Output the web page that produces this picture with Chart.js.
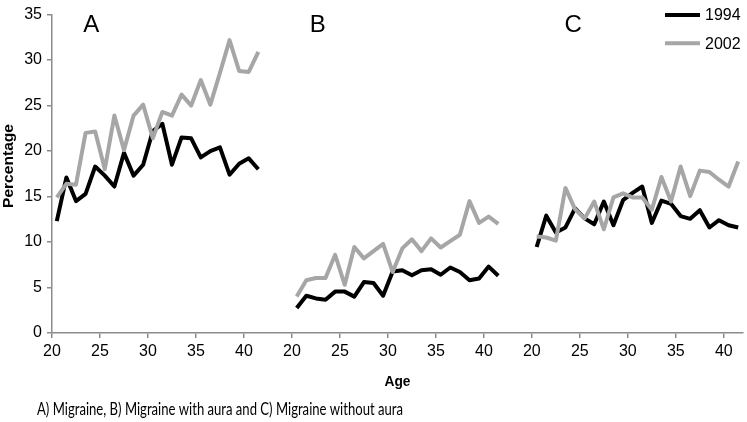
<!DOCTYPE html>
<html><head><meta charset="utf-8">
<script src="https://cdn.jsdelivr.net/npm/chart.js@4/dist/chart.umd.min.js"></script>
<style>html,body{margin:0;padding:0;background:#fff;}#wrap{position:relative;width:747px;height:422px;}</style>
</head><body><div id="wrap"><canvas id="c" width="747" height="422"></canvas></div>
<script>
// ---- data ----
const ages = [20,21,22,23,24,25,26,27,28,29,30,31,32,33,34,35,36,37,38,39,40,41];
const panelNames = ['A','B','C'];
const panelOffsets = [0,25,50];
const seriesNames = ['1994','2002'];
const migraine1994 = [12.3,17.1,14.5,15.3,18.3,17.3,16.1,19.8,17.3,18.5,22.2,23.0,18.5,21.5,21.4,19.3,20.0,20.4,17.4,18.6,19.2,18.0];
const migraine2002 = [14.9,16.4,16.3,22.0,22.15,18.0,23.9,20.1,23.9,25.1,21.4,24.3,23.9,26.2,25.0,27.8,25.1,28.6,32.2,28.8,28.7,30.9];
const withAura1994 = [2.75,4.1,3.8,3.65,4.55,4.55,4.0,5.6,5.5,4.1,6.75,6.9,6.35,6.9,7.0,6.4,7.2,6.7,5.8,6.0,7.3,6.3];
const withAura2002 = [4.0,5.8,6.05,6.05,8.6,5.3,9.45,8.2,9.0,9.8,6.7,9.3,10.3,9.0,10.4,9.4,10.1,10.8,14.5,12.1,12.8,12.0];
const withoutAura1994 = [9.45,12.9,11.05,11.6,13.7,12.6,11.95,14.45,11.85,14.6,15.4,16.1,12.1,14.55,14.2,12.85,12.55,13.5,11.6,12.4,11.85,11.6];
const withoutAura2002 = [10.6,10.5,10.15,15.95,13.6,12.6,14.45,11.4,14.9,15.35,14.9,14.9,13.55,17.15,14.45,18.3,15.05,17.85,17.7,16.85,16.1,18.85];
const ageTickLabels = [20,25,30,35,40];
const yTickValues = [0,5,10,15,20,25,30,35];
const captionText = 'A) Migraine, B) Migraine with aura and C) Migraine without aura';

// ---- build ----
const series1994 = [migraine1994, withAura1994, withoutAura1994];
const series2002 = [migraine2002, withAura2002, withoutAura2002];
const colors = {'1994':'#000000','2002':'#a6a6a6'};
const CENTER = 0.5;
function pts(vals, p){ return ages.map((a,i)=>({x:a+panelOffsets[p]+CENTER, y:vals[i]})); }
const datasets = [];
panelNames.forEach((n,p)=>{
  datasets.push({label:'1994', data:pts(series1994[p],p), borderColor:colors['1994'], order:1});
  datasets.push({label:'2002', data:pts(series2002[p],p), borderColor:colors['2002'], order:0});
});
datasets.forEach(d=>Object.assign(d,{borderWidth:4, pointRadius:0, tension:0, fill:false, borderJoinStyle:'round'}));

const axisGrey = '#8c8c8c';
function fitText(ctx, text, x, y, targetW){
  const w = ctx.measureText(text).width;
  const s = targetW / w;
  ctx.save(); ctx.translate(x, y); ctx.scale(s, 1); ctx.fillText(text, 0, 0); ctx.restore();
}
const textPlugin = {
  id:'texts',
  afterDraw(chart){
    const ctx = chart.ctx, x = chart.scales.x;
    ctx.save();
    ctx.fillStyle = '#000';
    // panel letters
    ctx.font = '24px "Liberation Sans", Arial, sans-serif';
    ctx.textAlign = 'center'; ctx.textBaseline = 'middle';
    const letterAt = [24.1, 47.7, 74.3];
    panelNames.forEach((n,i)=>ctx.fillText(n, x.getPixelForValue(letterAt[i]), 25));
    // legend
    ctx.font = '16px "Liberation Sans", Arial, sans-serif';
    ctx.textAlign = 'left';
    seriesNames.forEach((s,i)=>{
      const yy = 15 + i*28.3;
      ctx.strokeStyle = colors[s]; ctx.lineWidth = 4; ctx.lineCap='butt';
      ctx.beginPath(); ctx.moveTo(665, yy); ctx.lineTo(700, yy); ctx.stroke();
      ctx.fillText(s, 705, yy+1);
    });
    // axis titles
    ctx.font = 'bold 14px "Liberation Sans", Arial, sans-serif';
    ctx.textAlign='center';
    fitText(ctx, 'Age', (chart.chartArea.left+chart.chartArea.right)/2, 382, 26);
    ctx.save(); ctx.translate(9, 166); ctx.rotate(-Math.PI/2);
    fitText(ctx, 'Percentage', 0, 0, 84);
    ctx.restore();
    // caption
    ctx.textAlign='left';
    ctx.font = '17px Lato, "Open Sans", sans-serif';
    fitText(ctx, captionText, 37, 410, 366);
    ctx.restore();
  }
};

new Chart(document.getElementById('c'), {
  type:'line',
  data:{datasets},
  plugins:[textPlugin],
  options:{
    responsive:false, animation:false, devicePixelRatio:1,
    layout:{padding:{top:7,right:4,left:0,bottom:0}},
    plugins:{legend:{display:false}, tooltip:{enabled:false}},
    scales:{
      x:{type:'linear', min:20, max:92,
        afterBuildTicks:(s)=>{ s.ticks = panelOffsets.flatMap(o=>ageTickLabels.map(t=>({value:t+o}))); },
        afterFit:(s)=>{ s.height = 89; },
        ticks:{autoSkip:false, maxRotation:0, padding:4, color:'#000', font:{family:'"Liberation Sans", Arial, sans-serif', size:16},
          callback:(v)=>String(((v-20)%25)+20)},
        grid:{drawOnChartArea:false, drawTicks:true, tickLength:5, color:axisGrey, lineWidth:1.5},
        border:{display:true, color:axisGrey, width:1.5}
      },
      y:{min:0, max:35,
        afterBuildTicks:(s)=>{ s.ticks = yTickValues.map(v=>({value:v})); },
        afterFit:(s)=>{ s.width = 52; },
        ticks:{padding:5, color:'#000', font:{family:'"Liberation Sans", Arial, sans-serif', size:16}},
        grid:{drawOnChartArea:false, drawTicks:true, tickLength:5, color:axisGrey, lineWidth:1.5},
        border:{display:true, color:axisGrey, width:1.5}
      }
    }
  }
});
</script></body></html>
